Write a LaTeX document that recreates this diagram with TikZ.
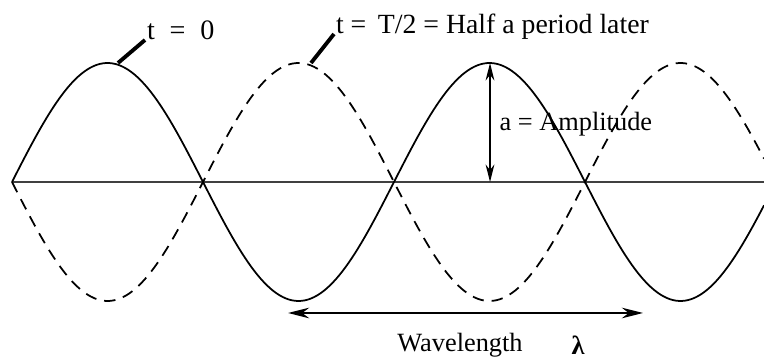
\documentclass[tikz,border=0pt]{standalone}
\usepackage{fontspec}
\setmainfont{Liberation Serif}
\usetikzlibrary{arrows.meta}

\tikzset{
    wave/.style={line width=1pt, line join=round},
    leader/.style={line width=2.2pt},
    label/.style={font=\fontsize{15}{17}\selectfont, inner sep=1pt}
}

\begin{document}
\begin{tikzpicture}[>={Stealth[length=10pt, width=5pt]}]
        \useasboundingbox (0, 0) rectangle (15.28, 7.2);

        % Axis and the two waves
        \draw[line width=0.9pt, black!75] (0.24, 3.56) -- (15.28, 3.56);
        \draw[wave] plot[domain=0.24:15.28, samples=240] (\x, {3.56 + 2.38*sin(180*(\x - 0.24)/3.82)});
        \draw[wave, dash pattern=on 6.5pt off 4.5pt] plot[domain=0.24:15.28, samples=240] (\x, {3.56 - 2.38*sin(180*(\x - 0.24)/3.82)});

        % Time labels
        \coordinate (peakA) at (2.36, 5.94);
        \coordinate (peakB) at (6.22, 5.94);
        \node[label, font=\fontsize{16}{18}\selectfont, anchor=base west] (tzero) at (2.9, 6.4) {t \;=\; 0};
        \node[label, font=\fontsize{15.8}{18}\selectfont, anchor=base west] (thalf) at (6.68, 6.52) {t =\, T/2 = Half a period later};
        \draw[leader] (peakA) -- (tzero.base west);
        \draw[leader] (peakB) -- (thalf.base west);

        % Amplitude
        \coordinate (crest) at (9.8, 5.94);
        \coordinate (foot) at (9.8, 3.56);
        \draw[<->, line width=0.9pt] (crest) -- (foot);
        \node[label, anchor=west] (amp) at (9.95, 4.72) {a = Amplitude};

        % Wavelength
        \coordinate (wlA) at (5.76, 0.94);
        \coordinate (wlB) at (12.86, 0.94);
        \draw[<->, line width=1.4pt, >={Stealth[length=12pt, width=6pt]}] (wlA) -- (wlB);
        \node[label] (wl) at (9.2, 0.3) {Wavelength};
        \node[label, font=\fontsize{15}{17}\selectfont\bfseries] (lam) at (11.56, 0.3) {λ};
    \end{tikzpicture}
\end{document}
